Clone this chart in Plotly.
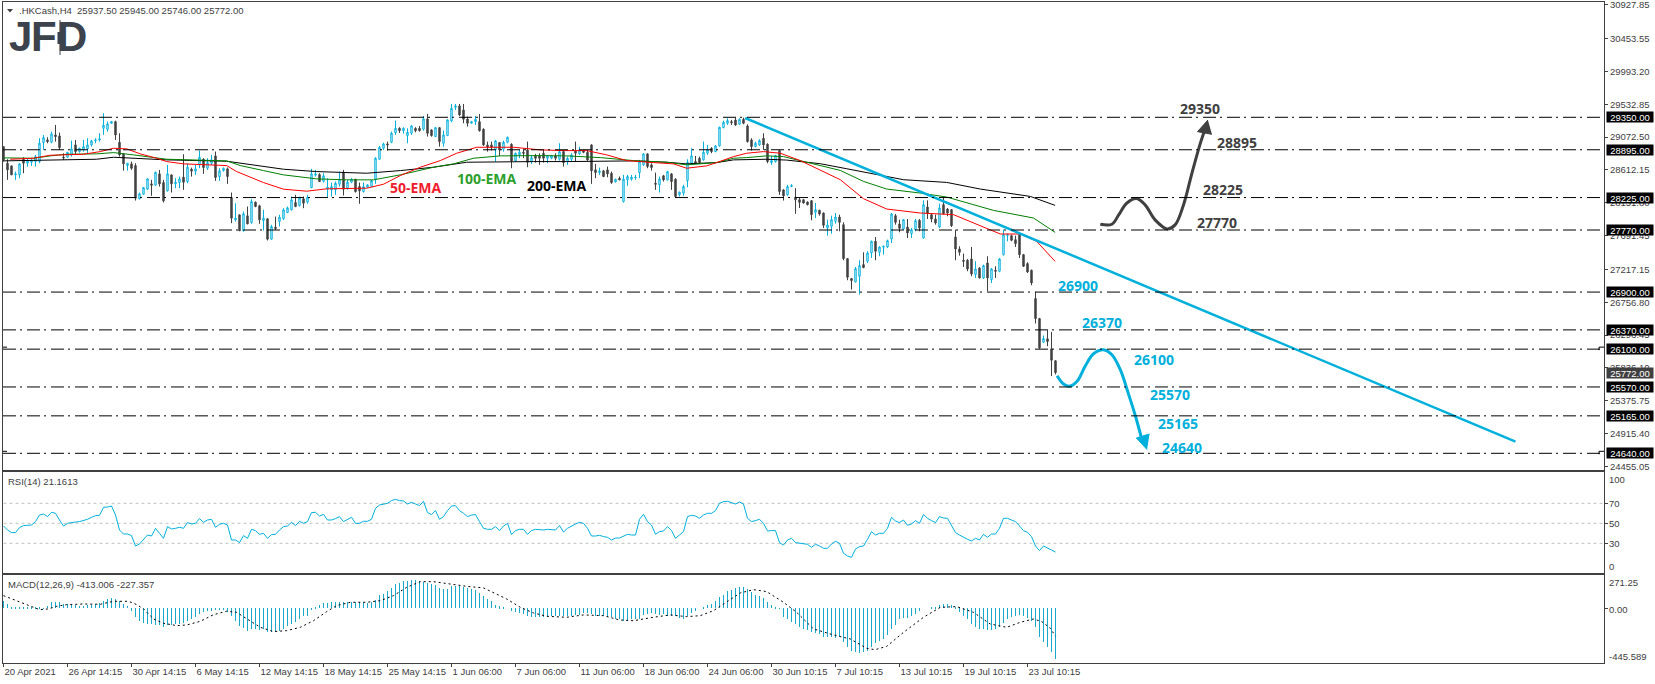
# -*- coding: utf-8 -*-
# .HKCash H4 chart (price, RSI, MACD)

import plotly.graph_objects as go

W, H = 1655, 684

# candles, ten bars per row
opens = [
    28939, 28706, 28669, 28543, 28543, 28762, 28706, 28720, 28729, 28729,
    28995, 29033, 29000, 29103, 29089, 28790, 28790, 28823, 28963, 28869,
    28893, 28907, 28963, 29023, 29033, 29196, 29182, 29266, 29289, 29000,
    28837, 28673, 28697, 28673, 28207, 28272, 28342, 28417, 28398, 28557,
    28435, 28319, 28543, 28417, 28435, 28510, 28449, 28622, 28594, 28683,
    28762, 28636, 28706, 28809, 28519, 28603, 28627, 28225, 27913, 27983,
    27759, 27969, 27875, 28160, 28109, 27903, 27927, 27642, 27810, 27889,
    27927, 28015, 28053, 28155, 28113, 28207, 28160, 28365, 28538, 28547,
    28454, 28347, 28333, 28333, 28412, 28575, 28356, 28440, 28482, 28379,
    28309, 28370, 28379, 28482, 28762, 28916, 28977, 29000, 29135, 29196,
    29163, 29093, 29126, 29196, 29196, 29182, 29327, 29173, 29079, 29205,
    28986, 29093, 29299, 29490, 29509, 29453, 29327, 29266, 29289, 29289,
    29182, 28963, 28963, 28893, 28995, 28902, 29000, 28972, 28739, 28823,
    28860, 28893, 28729, 28813, 28813, 28846, 28776, 28776, 28809, 28762,
    28869, 28729, 28762, 28878, 28837, 28878, 28860, 28963, 28613, 28575,
    28599, 28613, 28566, 28445, 28496, 28169, 28473, 28482, 28501, 28575,
    28683, 28837, 28683, 28426, 28403, 28529, 28473, 28557, 28482, 28263,
    28286, 28463, 28706, 28729, 28776, 28753, 28846, 28916, 28869, 28949,
    29205, 29266, 29289, 29313, 29252, 29322, 29229, 29033, 28939, 28963,
    29056, 28972, 28715, 28729, 28883, 28332, 28263, 28379, 28230, 28195,
    28195, 28162, 28181, 28018, 28046, 28008, 27798, 27822, 27892, 27952,
    27845, 27369, 27089, 27042, 27122, 27285, 27332, 27448, 27612, 27458,
    27528, 27532, 27644, 27971, 27854, 27784, 27812, 27719, 27775, 27906,
    27658, 28092, 27985, 27924, 27812, 28125, 28064, 28055, 27672, 27504,
    27346, 27346, 27364, 27145, 27238, 27098, 27308, 27075, 27206, 27192,
    27425, 27691, 27691, 27635, 27705, 27425, 27299, 27206, 26809, 26529,
    26197, 26244, 26104, 25937.5,
]
closes = [
    28753, 28613, 28543, 28557, 28697, 28706, 28739, 28743, 28799, 28986,
    29065, 29009, 29117, 29079, 28925, 28780, 28860, 28907, 28869, 28916,
    28939, 28963, 29019, 29033, 29047, 29238, 29257, 29289, 29103, 28823,
    28697, 28706, 28636, 28216, 28277, 28365, 28487, 28398, 28580, 28417,
    28179, 28557, 28417, 28440, 28487, 28440, 28650, 28594, 28627, 28790,
    28645, 28715, 28753, 28505, 28599, 28636, 28519, 27936, 27936, 27759,
    27997, 27857, 28169, 28099, 27913, 27936, 27642, 27819, 27791, 27950,
    28053, 28081, 28193, 28099, 28221, 28146, 28230, 28557, 28557, 28449,
    28529, 28370, 28379, 28426, 28482, 28342, 28440, 28482, 28309, 28319,
    28379, 28403, 28463, 28776, 28930, 28977, 28963, 29126, 29196, 29163,
    29196, 29140, 29229, 29163, 29163, 29327, 29126, 29093, 29205, 29009,
    29103, 29313, 29476, 29509, 29383, 29322, 29266, 29289, 29322, 29163,
    28963, 28930, 28930, 29019, 28893, 29000, 29070, 28739, 28846, 28860,
    28846, 28720, 28785, 28776, 28776, 28776, 28809, 28809, 28776, 28869,
    28715, 28776, 28823, 28846, 28893, 28860, 28753, 28599, 28575, 28599,
    28519, 28557, 28435, 28482, 28473, 28482, 28519, 28510, 28510, 28729,
    28837, 28659, 28645, 28412, 28487, 28473, 28589, 28449, 28239, 28300,
    28379, 28720, 28809, 28706, 28715, 28860, 28893, 28869, 28949, 29210,
    29280, 29303, 29275, 29243, 29322, 29266, 29009, 28939, 28986, 29023,
    28963, 28729, 28743, 28813, 28309, 28248, 28379, 28393, 28193, 28158,
    28148, 28125, 27985, 28055, 27994, 27836, 27840, 27915, 27952, 27878,
    27369, 27108, 27061, 27229, 27271, 27243, 27448, 27612, 27472, 27532,
    27542, 27621, 27994, 27878, 27794, 27915, 27728, 27775, 27901, 27798,
    28125, 27999, 27924, 27868, 28078, 27999, 28008, 27831, 27504, 27458,
    27332, 27224, 27154, 27224, 27098, 27271, 27098, 27224, 27192, 27364,
    27705, 27705, 27626, 27579, 27425, 27262, 27182, 27028, 26529, 26118,
    26249, 26207, 25945, 25772,
]
highs = [
    28939, 28762, 28669, 28589, 28706, 28790, 28776, 28762, 28823, 29056,
    29103, 29070, 29149, 29243, 29135, 28846, 28860, 29023, 29033, 28925,
    29033, 29056, 29033, 29056, 29126, 29406, 29289, 29299, 29303, 29126,
    28846, 28706, 28729, 28706, 28295, 28370, 28495, 28473, 28589, 28613,
    28473, 28683, 28543, 28496, 28519, 28832, 28706, 28645, 28683, 28883,
    28776, 28776, 28823, 28869, 28636, 28645, 28645, 28295, 28146, 27983,
    28029, 28099, 28202, 28170, 28123, 28053, 27936, 27843, 27959, 27983,
    28076, 28099, 28239, 28263, 28239, 28239, 28263, 28627, 28613, 28566,
    28566, 28496, 28435, 28449, 28589, 28613, 28473, 28496, 28482, 28435,
    28435, 28412, 28470, 28790, 28949, 28995, 29009, 29149, 29303, 29210,
    29210, 29196, 29238, 29210, 29229, 29369, 29397, 29182, 29215, 29205,
    29163, 29322, 29537, 29537, 29537, 29537, 29359, 29299, 29369, 29397,
    29196, 29009, 29009, 29033, 28995, 29023, 29079, 28986, 28855, 28893,
    28916, 29009, 28823, 28837, 28846, 28893, 28823, 28823, 28846, 28986,
    28893, 28799, 28846, 29009, 28939, 28893, 28893, 28972, 28697, 28645,
    28613, 28659, 28589, 28487, 28520, 28543, 28543, 28543, 28543, 28753,
    28846, 28846, 28706, 28575, 28519, 28543, 28599, 28566, 28496, 28309,
    28403, 28762, 28916, 28809, 28799, 29009, 28963, 28930, 28960, 29219,
    29303, 29336, 29313, 29345, 29336, 29345, 29252, 29056, 29009, 29042,
    29126, 28986, 28809, 28823, 28893, 28342, 28403, 28412, 28356, 28218,
    28205, 28170, 28190, 28148, 28055, 28015, 27915, 27971, 28008, 27985,
    27878, 27375, 27098, 27252, 27346, 27458, 27472, 27621, 27672, 27542,
    27551, 27635, 28008, 27994, 27915, 27924, 27924, 27798, 27924, 27924,
    28186, 28186, 28008, 27985, 28139, 28242, 28078, 28064, 27775, 27542,
    27439, 27364, 27532, 27332, 27248, 27285, 27402, 27238, 27262, 27378,
    27775, 27719, 27705, 27691, 27714, 27434, 27318, 27215, 26902, 26538,
    26291, 26366, 26342, 25945,
]
lows = [
    28729, 28473, 28543, 28473, 28496, 28566, 28659, 28669, 28659, 28706,
    28893, 28986, 28986, 29009, 28893, 28753, 28785, 28799, 28823, 28855,
    28869, 28846, 28939, 28986, 29009, 29103, 29149, 29261, 29033, 28799,
    28603, 28603, 28613, 28183, 28202, 28265, 28330, 28249, 28389, 28379,
    28155, 28309, 28295, 28356, 28356, 28333, 28426, 28519, 28543, 28636,
    28557, 28613, 28683, 28459, 28459, 28589, 28417, 27866, 27889, 27759,
    27749, 27850, 27857, 28090, 27857, 27763, 27623, 27633, 27773, 27819,
    27913, 28006, 28043, 28090, 28099, 28076, 28137, 28356, 28519, 28445,
    28435, 28230, 28239, 28263, 28379, 28253, 28333, 28426, 28295, 28137,
    28295, 28360, 28375, 28417, 28753, 28893, 28883, 28986, 29103, 29130,
    29120, 28986, 29103, 29140, 29149, 29163, 29079, 29079, 29075, 28939,
    28939, 29089, 29280, 29453, 29369, 29266, 29219, 29261, 29243, 29149,
    28949, 28869, 28883, 28729, 28809, 28869, 28986, 28636, 28729, 28776,
    28776, 28650, 28697, 28715, 28683, 28715, 28706, 28762, 28743, 28743,
    28659, 28683, 28729, 28729, 28823, 28846, 28740, 28417, 28496, 28543,
    28510, 28510, 28417, 28435, 28465, 28155, 28389, 28463, 28473, 28496,
    28669, 28636, 28603, 28333, 28295, 28449, 28463, 28333, 28230, 28239,
    28249, 28370, 28697, 28697, 28697, 28743, 28823, 28846, 28860, 28939,
    29196, 29243, 29243, 29229, 29243, 29252, 28995, 28883, 28930, 28949,
    28893, 28706, 28683, 28715, 28263, 28183, 28249, 28370, 27997, 28078,
    28140, 28115, 27906, 27938, 27971, 27798, 27691, 27719, 27859, 27752,
    27346, 27066, 26935, 27037, 26865, 27234, 27308, 27378, 27346, 27402,
    27425, 27518, 27588, 27845, 27738, 27775, 27658, 27658, 27752, 27752,
    27649, 27924, 27878, 27845, 27798, 27985, 27962, 27812, 27346, 27411,
    27252, 27192, 27122, 27098, 27089, 27084, 26912, 27028, 27098, 27178,
    27411, 27612, 27612, 27532, 27378, 27252, 27168, 26996, 26459, 26104,
    26188, 26141, 25722, 25746,
]

# moving averages, vertices only (bar number, price)
ema200_x = [0, 7.5, 15, 23.3, 27.5, 32.5, 40.8, 55.8, 62.5, 70, 78.3, 90.8, 99.2, 107.5, 115.8, 124.2,
            132.5, 140.8, 149.2, 157.5, 165.8, 170.8, 174.2, 178.3, 182.5, 185.8, 190.8, 195.8, 204.2,
            210.8, 216.7, 225, 235.8, 244.2, 256.7, 262.9]
ema200_y = [28739, 28743, 28753, 28762, 28790, 28776, 28753, 28734, 28683, 28622, 28589, 28566, 28603, 28650,
            28720, 28729, 28729, 28729, 28739, 28739, 28720, 28697, 28706, 28715, 28753, 28753, 28762, 28750,
            28699, 28629, 28568, 28475, 28437, 28344, 28241, 28115]
ema100_x = [0, 7.5, 11.7, 15.8, 23.3, 27.5, 32.5, 40.8, 55.8, 59.2, 65, 70, 78.3, 85.8, 92.5, 99.2, 107.5,
            112.5, 117.5, 124.2, 134.2, 140.8, 149.2, 157.5, 165.8, 170.8, 178.3, 182.5, 185.8, 190.8, 195,
            199.2, 204.2, 209.2, 215, 220.8, 229.2, 235.8, 247.5, 257.5, 262.9]
ema100_y = [28781, 28776, 28809, 28832, 28837, 28855, 28823, 28762, 28739, 28673, 28603, 28543, 28487, 28473,
            28473, 28543, 28650, 28697, 28776, 28809, 28813, 28809, 28785, 28743, 28720, 28683, 28715, 28776,
            28785, 28809, 28799, 28743, 28671, 28605, 28451, 28344, 28288, 28232, 28045, 27938, 27737]
ema50_x = [1.7, 7.5, 11.7, 20, 24.2, 27.5, 30.8, 34.2, 38.3, 40.8, 45, 55.8, 58.3, 65, 70, 75.8, 80.8, 90.8,
           95, 99.2, 104.2, 109.2, 113.3, 118.3, 127.5, 134.2, 140, 145.8, 150.8, 155.8, 162.5, 167.5, 170.8,
           175.8, 178.3, 182.5, 185.8, 190, 194.2, 199.2, 209.2, 215, 220.8, 229.2, 237.5, 246.7, 249.2,
           254.2, 258.3, 262.9]
ema50_y = [28762, 28776, 28818, 28832, 28869, 28916, 28907, 28837, 28776, 28729, 28697, 28673, 28589, 28435,
           28342, 28314, 28347, 28356, 28412, 28533, 28650, 28743, 28846, 28930, 28930, 28893, 28883, 28883,
           28823, 28743, 28715, 28697, 28636, 28669, 28715, 28799, 28846, 28869, 28846, 28743, 28475, 28209,
           28064, 28008, 27985, 27765, 27714, 27714, 27611, 27331]

# horizontal levels and the price scale
levels = [29350, 28895, 28225, 27770, 26900, 26370, 26100, 25570, 25165, 24640]
stub_levels = [26100, 24640]
last_price = 25772
price_ticks = [30927.85, 30453.55, 29993.20, 29532.85, 29072.50, 28612.15, 28151.80, 27691.45,
               27217.15, 26756.80, 26296.45, 25836.10, 25375.75, 24915.40, 24455.05]
date_ticks = [0, 16, 32, 48, 64, 80, 96, 112, 128, 144, 160, 176, 192, 208, 224, 240, 256]
date_labels = ["20 Apr 2021", "26 Apr 14:15", "30 Apr 14:15", "6 May 14:15", "12 May 14:15", "18 May 14:15",
               "25 May 14:15", "1 Jun 06:00", "7 Jun 06:00", "11 Jun 06:00", "18 Jun 06:00", "24 Jun 06:00",
               "30 Jun 10:15", "7 Jul 10:15", "13 Jul 10:15", "19 Jul 10:15", "23 Jul 10:15"]

# drawn objects
trend_x = [185.4, 378]
trend_y = [29340, 24804]
up_path_x = [274.2, 277.1, 278.8, 280.8, 283.3, 285.4, 287.9, 290.9, 292.9, 295, 297.1, 299.2, 300.6]
up_path_y = [27851, 27851, 27982, 28145, 28211, 28122, 27912, 27786, 27842, 28122, 28565, 28985, 29219]
up_head_x = [301.1, 298.5, 302.1]
up_head_y = [29312, 29149, 29111]
down_path_x = [263.4, 265, 266.5, 268.4, 270.4, 272.5, 275, 277.1, 279.2, 281.3, 283, 284.6]
down_path_y = [25728, 25611, 25579, 25649, 25859, 26036, 26092, 26022, 25812, 25462, 25159, 24832]
down_head_x = [285.9, 283.2, 286.5]
down_head_y = [24692, 24855, 24911]

# RSI, one value per bar
rsi = [
    47.3, 43.3, 40.7, 40.7, 45.7, 47.7, 48, 48.3, 51.7, 58.3,
    59.3, 56.7, 61, 60, 53.3, 47.3, 50, 51, 51.3, 51.7,
    52.7, 54, 56, 57.7, 58, 66, 66.3, 67.3, 58.3, 43.3,
    39.3, 39.3, 37.7, 27.3, 29.3, 34, 38.3, 37.3, 45, 40,
    35, 46.7, 44.3, 45, 46, 45, 50.7, 49.3, 50, 54.7,
    51, 53.3, 54, 46, 49, 50, 48.3, 33.3, 33.3, 30.7,
    37.7, 35, 44, 42.7, 39, 40, 35, 38.7, 39, 43.3,
    46.7, 47.3, 51, 47.7, 52, 50, 51.7, 60.7, 61, 57.3,
    59, 53.3, 53.3, 54.7, 56.7, 51.7, 54, 56, 50, 50,
    52, 52, 54, 65, 68.3, 69.3, 70, 72.7, 74, 72.7,
    72.3, 69.3, 71, 69.3, 67.7, 72, 60.7, 58.7, 62.7, 54,
    56.7, 62.7, 67.3, 67.7, 62.7, 60, 56.7, 58.3, 58.7, 51.7,
    45, 44, 44, 46.7, 42.7, 47.3, 50, 38.7, 42.7, 44,
    44, 39, 42.7, 44, 43.3, 43.3, 44, 44, 43.3, 47.7,
    41.3, 45, 47.3, 49.3, 51, 50, 45, 37.3, 37.3, 38,
    36.7, 36, 33.3, 35.3, 35.3, 37.3, 39, 38.3, 38.3, 54,
    59, 51.7, 48.3, 39, 41.7, 42.3, 46.7, 42.7, 35, 38.3,
    41.7, 56.7, 58, 57.3, 55, 58.3, 60, 60, 62.7, 70,
    71.7, 72, 71, 69.3, 71.3, 69.3, 55, 51.7, 52.7, 54,
    50, 42.3, 42.7, 42.7, 30.7, 28.3, 33.3, 35, 30.7, 30,
    29.7, 29, 26, 29, 27.3, 25, 25, 29.3, 32, 30,
    20, 17.3, 16, 24.3, 26.7, 27.3, 34, 41.7, 38.3, 40,
    40, 45, 56, 52.3, 50.7, 53.3, 48, 49.3, 52.7, 50,
    58.7, 55, 52.7, 50.7, 56.7, 55.3, 55, 48.3, 40.7, 38.3,
    36, 34, 32.3, 35, 33.3, 39, 36, 39.3, 39.3, 45,
    55, 55, 53.3, 51.7, 47.3, 42.7, 41, 36.7, 27.3, 22.7,
    27.3, 25.7, 23.3, 21.2,
]
rsi_levels = [70, 50, 30]

# MACD histogram, one value per bar
macd = [
    62, 35, 8, 8, 8, 8, 8, 8, 8, 5,
    -3, 22, 49, 49, 49, 35, 35, 30, 27, 22,
    22, 27, 30, 35, 41, 57, 76, 84, 76, 62,
    35, 22, -19, -68, -106, -122, -128, -128, -133, -133,
    -149, -136, -136, -128, -128, -122, -101, -87, -68, -46,
    -33, -24, -19, -14, -11, -11, -33, -60, -101, -141,
    -160, -182, -168, -168, -174, -168, -190, -196, -190, -182,
    -168, -147, -128, -109, -87, -65, -60, -11, 8, 30,
    43, 43, 49, 49, 49, 49, 49, 49, 49, 49,
    49, 43, 49, 68, 109, 117, 139, 166, 198, 207,
    223, 226, 231, 231, 223, 212, 207, 198, 193, 166,
    158, 158, 179, 185, 185, 171, 163, 158, 152, 125,
    103, 76, 57, 30, 16, 8, 0, -19, -33, -38,
    -46, -60, -68, -68, -73, -68, -68, -65, -65, -65,
    -60, -60, -60, -52, -52, -38, -38, -46, -60, -60,
    -65, -73, -73, -87, -87, -101, -101, -87, -87, -87,
    -52, -46, -41, -46, -52, -46, -60, -60, -65, -82,
    -87, -60, -38, -19, 0, 14, 30, 35, 62, 90,
    111, 139, 152, 166, 171, 174, 158, 130, 111, 103,
    84, 49, 27, 14, -5, -68, -87, -114, -128, -155,
    -168, -174, -196, -204, -209, -236, -236, -231, -242, -236,
    -277, -318, -351, -359, -364, -359, -345, -318, -285, -264,
    -250, -217, -168, -133, -87, -82, -82, -60, -46, -19,
    0, 0, 3, 8, 30, 35, 35, 30, 8, -33,
    -60, -87, -128, -149, -168, -168, -174, -174, -168, -155,
    -120, -87, -73, -60, -54, -60, -82, -101, -155, -236,
    -272, -312, -353, -413,
]
signal_x = [0, 1.7, 4.2, 6.7, 9, 11.25, 13.3, 15.8, 20, 24.2, 27.5, 31.25, 33.3, 35, 37.5, 40, 43.3, 45.8,
            49.2, 52.5, 55.8, 58.3, 60.8, 64.2, 67.5, 70.8, 74.2, 77.5, 80.8, 83.3, 86.7, 90.8, 94.2, 97.5,
            100.8, 104.2, 107.5, 112.5, 115.8, 120, 123.3, 125.8, 129.2, 132.5, 135.8, 140.8, 145, 150, 154,
            157.5, 162.5, 166.7, 170.8, 174.2, 177.5, 180.8, 184.2, 187.5, 190.8, 195, 198.3, 202.5, 207.5,
            211.7, 215.8, 217.9, 220.8, 225, 230, 234.2, 238.3, 242.5, 246.7, 250.8, 254.2, 257.5, 259.6,
            261.7, 263]
signal_y = [103, 82, 49, 14, -11, -5, 16, 30, 35, 33, 57, 57, 30, -5, -87, -122, -141, -136,
            -106, -52, -24, -33, -87, -155, -190, -182, -155, -101, -27, 22, 49, 49, 62, 103,
            171, 217, 217, 193, 179, 166, 117, 76, 8, -38, -65, -73, -54, -60, -95,
            -101, -73, -54, -68, -60, -19, 49, 125, 152, 136, 49, -33, -168, -217,
            -250, -326, -337, -310, -196, -73, 8, 14, -33, -128, -155, -114, -87, -109,
            -163, -227]

BLUE = "#00b0dc"
DARK = "#404040"
LOGO = "#3c434c"
FONT = "Liberation Sans"
SMALL = 9.5
# 4 px per bar exactly, so wicks and MACD bars land on whole pixels
X_START, X_END = -0.125, 400.125


def px(x):
    return x / W


def py(y):
    return 1 - y / H


fig = go.Figure()

bars = list(range(len(closes)))

# averages sit behind the candles
for xs, ys, col in [(ema200_x, ema200_y, "#000000"), (ema100_x, ema100_y, "#008000"), (ema50_x, ema50_y, "#ff0000")]:
    fig.add_trace(go.Scatter(x=xs, y=ys, mode="lines", line=dict(color=col, width=1)))

fig.add_trace(go.Candlestick(
    x=bars, open=opens, high=highs, low=lows, close=closes,
    increasing=dict(line=dict(color=BLUE, width=1), fillcolor="#ffffff"),
    decreasing=dict(line=dict(color=DARK, width=1), fillcolor=DARK),
    whiskerwidth=0,
))

for lev in levels:
    fig.add_hline(y=lev, line=dict(color="#000000", width=1, dash="13px,4px,2px,5px"))

fig.add_trace(go.Scatter(x=trend_x, y=trend_y, mode="lines", line=dict(color=BLUE, width=2.5)))
fig.add_trace(go.Scatter(x=up_path_x, y=up_path_y, mode="lines",
                         line=dict(color=DARK, width=3, shape="spline")))
fig.add_trace(go.Scatter(x=up_head_x, y=up_head_y, mode="lines", fill="toself", fillcolor=DARK,
                         line=dict(color=DARK, width=1)))
fig.add_trace(go.Scatter(x=down_path_x, y=down_path_y, mode="lines",
                         line=dict(color=BLUE, width=3, shape="spline")))
fig.add_trace(go.Scatter(x=down_head_x, y=down_head_y, mode="lines", fill="toself", fillcolor=BLUE,
                         line=dict(color=BLUE, width=1)))

# RSI pane
for lev in rsi_levels:
    fig.add_trace(go.Scatter(x=[0, X_END], y=[lev, lev], mode="lines", xaxis="x2", yaxis="y2",
                             line=dict(color="#c0c0c0", width=1, dash="3px,3px")))
fig.add_trace(go.Scatter(x=bars, y=rsi, mode="lines", xaxis="x2", yaxis="y2", line=dict(color=BLUE, width=1)))

# MACD pane
fig.add_trace(go.Bar(x=bars, y=macd, width=0.25, xaxis="x3", yaxis="y3",
                     marker=dict(color="#18a8cc", line=dict(width=0))))
fig.add_trace(go.Scatter(x=signal_x, y=signal_y, mode="lines", xaxis="x3", yaxis="y3",
                         line=dict(color="#000000", width=1, dash="2px,3px")))

frame = dict(showline=True, mirror=True, linecolor=DARK, linewidth=1, showgrid=False, zeroline=False,
             automargin=False)
tick_font = dict(family=FONT, size=SMALL, color=DARK)
x_dom = [px(3), px(1604)]
x_base = dict(domain=x_dom, range=[X_START, X_END], **frame)

fig.update_layout(
    width=W, height=H, margin=dict(l=0, r=0, t=0, b=0), autosize=False,
    paper_bgcolor="#ffffff", plot_bgcolor="#ffffff", showlegend=False, boxgap=0.5, bargap=0,
    hovermode=False,
    xaxis=dict(anchor="y", rangeslider=dict(visible=False), showticklabels=False, ticks="", **x_base),
    yaxis=dict(anchor="x", side="right", domain=[py(470), py(2)], range=[24406, 30966],
               tickmode="array", tickvals=price_ticks, ticktext=[f"{v:.2f}" for v in price_ticks],
               ticks="outside", ticklen=3, tickcolor=DARK, tickfont=tick_font,
               ticklabeloverflow="allow", **frame),
    xaxis2=dict(anchor="y2", showticklabels=False, ticks="", **x_base),
    yaxis2=dict(anchor="x2", side="right", domain=[py(573), py(472)], range=[0.3, 101.3],
                tickmode="array", tickvals=rsi_levels, ticks="outside", ticklen=3, tickcolor=DARK,
                showticklabels=False, **frame),
    xaxis3=dict(anchor="y3", tickmode="array", tickvals=date_ticks, ticktext=date_labels, tickangle=0,
                ticks="outside", ticklen=3, tickcolor=DARK, tickfont=tick_font,
                ticklabelposition="outside right", **x_base),
    yaxis3=dict(anchor="x3", side="right", domain=[py(663), py(575)], range=[-445.589, 271.25],
                tickmode="array", tickvals=[0], ticks="outside", ticklen=3, tickcolor=DARK,
                showticklabels=False, **frame),
)


def note(x, y, text, color=DARK, size=SMALL, bold=False, anchor="left", family=FONT):
    fig.add_annotation(xref="paper", yref="paper", x=px(x), y=py(y), text=f"<b>{text}</b>" if bold else text,
                       showarrow=False, xanchor=anchor, yanchor="middle", borderpad=0,
                       font=dict(family=family, size=size, color=color))


note(18, 10.5, ".HKCash,H4  25937.50 25945.00 25746.00 25772.00")
note(7, 481.5, "RSI(14) 21.1613")
note(7, 584, "MACD(12,26,9) -413.006 -227.357")

# pane scales that MT4 pulls inside the window
for y, text in [(479, "100"), (503.3, "70"), (523.3, "50"), (543.3, "30"), (566, "0"),
                (582.7, "271.25"), (609.3, "0.00"), (656.7, "-445.589")]:
    note(1608, y, text)

# black price boxes on the scale
for val, bg in [(v, "#000000") for v in levels] + [(last_price, DARK)]:
    fig.add_annotation(xref="paper", yref="y", x=px(1606), y=val, text=f"{val:.2f}", showarrow=False,
                       xanchor="left", yanchor="middle", width=46, height=10, borderpad=0, bgcolor=bg,
                       font=dict(family=FONT, size=SMALL, color="#ffffff"))

# small hooks at both ends of some level lines
for lev in stub_levels:
    for x0, x1 in [(1599, 1604), (3, 7)]:
        fig.add_shape(type="line", xref="paper", yref="y", x0=px(x0), x1=px(x1), y0=lev + 28, y1=lev + 28,
                      line=dict(color="#000000", width=1))
    fig.add_shape(type="line", xref="paper", yref="y", x0=px(1599), x1=px(1599), y0=lev + 28, y1=lev - 14,
                  line=dict(color="#000000", width=1))

# labels on the chart
OPEN = "Open Sans"
for x, y, text, col in [
    (1200, 109, "29350", DARK), (1237, 142, "28895", DARK), (1223, 189, "28225", DARK), (1217, 222, "27770", DARK),
    (1078, 285, "26900", BLUE), (1102, 322, "26370", BLUE), (1154, 359, "26100", BLUE),
    (1170, 394, "25570", BLUE), (1178, 423, "25165", BLUE), (1182, 447, "24640", BLUE),
    (416, 187, "50-EMA", "#f01c2c"), (487, 178, "100-EMA", "#2ca02c"), (557, 185, "200-EMA", "#000000"),
]:
    note(x, y, text, color=col, size=14, bold=True, anchor="center", family=OPEN)

# logo, the letters set one by one to squeeze them into the reference width
for x, letter in [(8, "J"), (30, "F"), (56, "D")]:
    note(x, 37, letter, color=LOGO, size=42, bold=True)
fig.add_shape(type="line", xref="paper", yref="paper", x0=px(60), x1=px(60), y0=py(20), y1=py(55),
              line=dict(color=LOGO, width=1))
fig.add_shape(type="rect", xref="paper", yref="paper", x0=px(57.5), x1=px(62.5), y0=py(32), y1=py(44),
              fillcolor=LOGO, line=dict(width=0))

# little menu triangle in the corner
fig.add_shape(type="path", xref="paper", yref="paper",
              path=f"M {px(7)} {py(9)} L {px(13)} {py(9)} L {px(10)} {py(12.5)} Z",
              fillcolor=DARK, line=dict(width=0))

fig.write_html("out.html", config=dict(displayModeBar=False),
               post_script="document.body.style.margin='0';document.body.style.overflow='hidden';")
